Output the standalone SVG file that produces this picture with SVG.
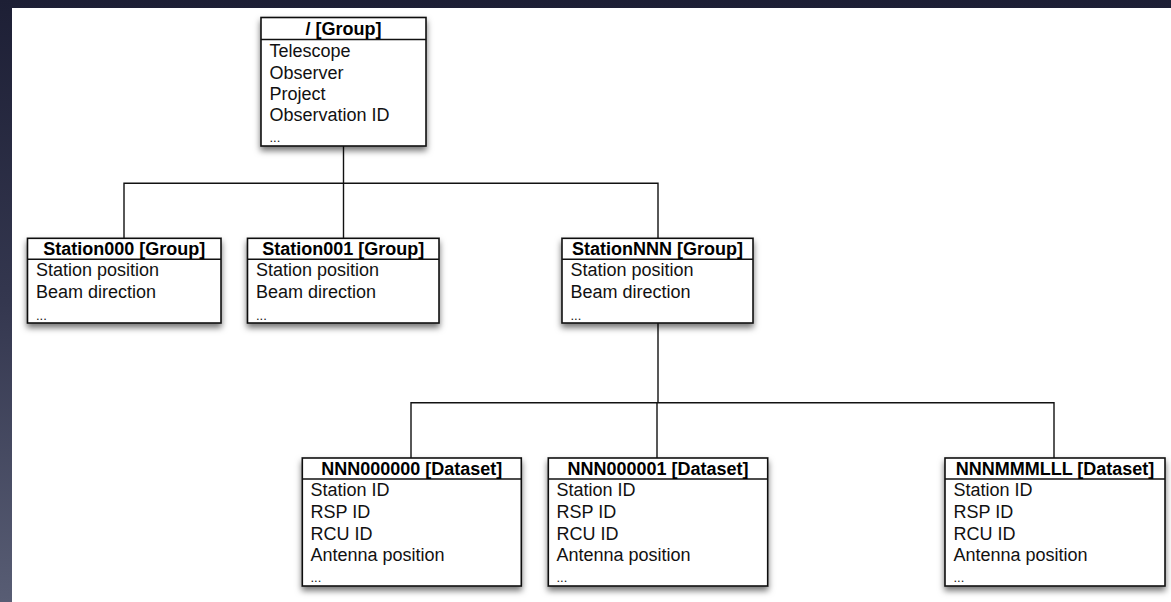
<svg xmlns="http://www.w3.org/2000/svg" width="1171" height="602" viewBox="0 0 1171 602">
  <defs>
    <linearGradient id="bg" x1="0" y1="0" x2="0" y2="1">
      <stop offset="0" stop-color="#1d1f35"/>
      <stop offset="0.5" stop-color="#34374f"/>
      <stop offset="1" stop-color="#585d74"/>
    </linearGradient>
    <filter id="shadow" x="-10%" y="-10%" width="120%" height="130%">
      <feDropShadow dx="0" dy="4" stdDeviation="3" flood-color="#000" flood-opacity="0.55"/>
    </filter>
  </defs>
  <style>
    .box { fill: #ffffff; stroke: #111111; stroke-width: 1.6; }
    .sep { stroke: #111111; stroke-width: 1.4; }
    .conn { stroke: #111111; stroke-width: 1.4; fill: none; }
    .hdr { font-family: "Liberation Sans", Arial, sans-serif; font-size: 18px; font-weight: bold; fill: #000; text-anchor: middle; }
    .txt { font-family: "Liberation Sans", Arial, sans-serif; font-size: 18px; fill: #111; }
    .dots { font-family: "Liberation Sans", Arial, sans-serif; font-size: 13px; fill: #111; }
  </style>
  <rect x="0" y="0" width="1171" height="602" fill="url(#bg)"/>
  <rect x="12" y="8" width="1159" height="594" fill="#ffffff"/>

  <g id="connectors">
    <path class="conn" d="M343.5 146 V183.3"/>
    <path class="conn" d="M124 238 V183.3 H658 V238"/>
    <path class="conn" d="M343.5 183.3 V238"/>
    <path class="conn" d="M658 323 V402.7"/>
    <path class="conn" d="M411 458 V402.7 H1054 V458"/>
    <path class="conn" d="M657 402.7 V458"/>
  </g>

  <g id="root">
    <rect class="box" x="261" y="17.5" width="165" height="128.5" filter="url(#shadow)"/>
    <line class="sep" x1="261" y1="39.5" x2="426" y2="39.5"/>
    <text class="hdr" x="343.5" y="34.5">/ [Group]</text>
    <text class="txt" x="269.5" y="57">Telescope</text>
    <text class="txt" x="269.5" y="79">Observer</text>
    <text class="txt" x="269.5" y="100">Project</text>
    <text class="txt" x="269.5" y="121">Observation ID</text>
    <text class="dots" x="269.5" y="142">...</text>
  </g>

  <g id="station000">
    <rect class="box" x="27.5" y="238.3" width="193.5" height="84.7" filter="url(#shadow)"/>
    <line class="sep" x1="27.5" y1="259.3" x2="221" y2="259.3"/>
    <text class="hdr" x="124.3" y="254.5">Station000 [Group]</text>
    <text class="txt" x="36" y="276">Station position</text>
    <text class="txt" x="36" y="298">Beam direction</text>
    <text class="dots" x="36" y="319.5">...</text>
  </g>

  <g id="station001">
    <rect class="box" x="247.5" y="238.3" width="191.5" height="84.7" filter="url(#shadow)"/>
    <line class="sep" x1="247.5" y1="259.3" x2="439" y2="259.3"/>
    <text class="hdr" x="343.3" y="254.5">Station001 [Group]</text>
    <text class="txt" x="256" y="276">Station position</text>
    <text class="txt" x="256" y="298">Beam direction</text>
    <text class="dots" x="256" y="319.5">...</text>
  </g>

  <g id="stationNNN">
    <rect class="box" x="562" y="238.3" width="191" height="84.7" filter="url(#shadow)"/>
    <line class="sep" x1="562" y1="259.3" x2="753" y2="259.3"/>
    <text class="hdr" x="657.5" y="254.5">StationNNN [Group]</text>
    <text class="txt" x="570.5" y="276">Station position</text>
    <text class="txt" x="570.5" y="298">Beam direction</text>
    <text class="dots" x="570.5" y="319.5">...</text>
  </g>

  <g id="nnn000000">
    <rect class="box" x="302.3" y="458" width="219" height="128" filter="url(#shadow)"/>
    <line class="sep" x1="302.3" y1="479" x2="521.3" y2="479"/>
    <text class="hdr" x="411.8" y="475">NNN000000 [Dataset]</text>
    <text class="txt" x="310.5" y="496">Station ID</text>
    <text class="txt" x="310.5" y="518">RSP ID</text>
    <text class="txt" x="310.5" y="539.5">RCU ID</text>
    <text class="txt" x="310.5" y="561">Antenna position</text>
    <text class="dots" x="310.5" y="582">...</text>
  </g>

  <g id="nnn000001">
    <rect class="box" x="548.3" y="458" width="219.4" height="128" filter="url(#shadow)"/>
    <line class="sep" x1="548.3" y1="479" x2="767.7" y2="479"/>
    <text class="hdr" x="658" y="475">NNN000001 [Dataset]</text>
    <text class="txt" x="556.5" y="496">Station ID</text>
    <text class="txt" x="556.5" y="518">RSP ID</text>
    <text class="txt" x="556.5" y="539.5">RCU ID</text>
    <text class="txt" x="556.5" y="561">Antenna position</text>
    <text class="dots" x="556.5" y="582">...</text>
  </g>

  <g id="nnnmmmlll">
    <rect class="box" x="945" y="458" width="220" height="128" filter="url(#shadow)"/>
    <line class="sep" x1="945" y1="479" x2="1165" y2="479"/>
    <text class="hdr" x="1055" y="475">NNNMMMLLL [Dataset]</text>
    <text class="txt" x="953.5" y="496">Station ID</text>
    <text class="txt" x="953.5" y="518">RSP ID</text>
    <text class="txt" x="953.5" y="539.5">RCU ID</text>
    <text class="txt" x="953.5" y="561">Antenna position</text>
    <text class="dots" x="953.5" y="582">...</text>
  </g>
</svg>
